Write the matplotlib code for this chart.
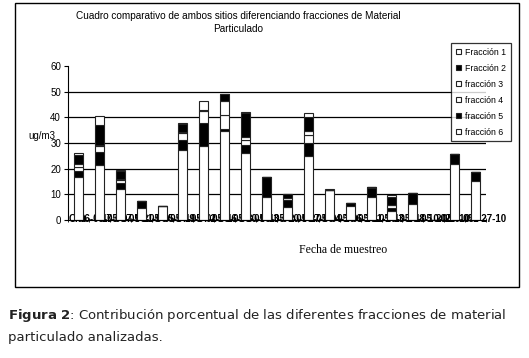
import numpy as np
import matplotlib
matplotlib.use("Agg")
import matplotlib.pyplot as plt
from matplotlib.patches import Rectangle

# fechas de muestreo (illegible in the original, overlapping labels)
fechas = ["Citb", "06-05-05", "17-05-05", "07-06-05", "21-06-05", "05-07-05",
          "19-07-05", "02-08-05", "16-08-05", "30-08-05", "13-09-05", "20-09-05",
          "27-09-05", "04-10-05", "06-10-05", "11-10-05", "13-10-05", "18-10-05",
          "20-10-05", "20-10-1 27-10"]

# ug/m3 por fraccion
fraccion_1 = [16.6, 21.3, 12.0, 4.6, 5.4, 27.2, 28.7, 34.6, 26.0, 9.1,
              5.2, 24.8, 11.8, 5.5, 9.1, 3.6, 6.1, 0, 21.7, 15.2]
fraccion_2 = [2.3, 5.3, 2.5, 2.9, 0, 4.0, 9.0, 1.0, 3.4, 7.8,
              2.7, 5.2, 0, 1.2, 3.3, 1.0, 4.5, 0, 3.9, 3.6]
fraccion_3 = [1.8, 2.4, 1.0, 0, 0, 2.6, 4.8, 5.4, 1.6, 0,
              0.6, 3.2, 0, 0, 0.6, 1.2, 0, 0, 0, 0]
fraccion_4 = [1.0, 0.3, 0.3, 0, 0, 0.5, 0.3, 5.5, 1.2, 0,
              0, 1.5, 0, 0, 0, 0, 0, 0, 0, 0]
fraccion_5 = [3.7, 7.6, 3.3, 0, 0, 3.2, 0, 2.6, 9.5, 0,
              1.5, 5.4, 0, 0, 0, 3.0, 0, 0, 0, 0]
fraccion_6 = [0.8, 3.5, 0.2, 0, 0, 0.2, 3.6, 0, 0.3, 0,
              0, 1.4, 0.2, 0, 0, 0.9, 0, 0, 0, 0]

series = [fraccion_1, fraccion_2, fraccion_3, fraccion_4, fraccion_5, fraccion_6]
nombres = ["Fracción 1", "Fracción 2", "fracción 3", "fracción 4", "fracción 5", "fracción 6"]
colores = ["white", "black", "white", "white", "black", "white"]

plt.rcParams["font.family"] = ["Liberation Sans", "DejaVu Sans"]

fig = plt.figure(figsize=(5.29, 3.58), dpi=100)
W, H = 529, 358
fig.patches.append(Rectangle((15 / W, 1 - 287 / H), (519 - 15) / W, (287 - 3) / H,
                             transform=fig.transFigure, fill=False, edgecolor="black",
                             linewidth=1.0))

ax = fig.add_axes([68 / W, 1 - 220 / H, (486 - 68) / W, (220 - 66) / H])
x = np.arange(len(fechas))
bottom = np.zeros(len(fechas))
for vals, nombre, col in zip(series, nombres, colores):
    vals = np.array(vals)
    ax.bar(x, vals, width=0.43, bottom=bottom, color=col, edgecolor="#222222",
           linewidth=0.8, label=nombre, zorder=2)
    bottom += vals

ax.set_xlim(-0.5, len(fechas) - 0.5)
ax.set_ylim(0, 60)
ax.set_yticks(range(0, 61, 10))
for g in range(10, 60, 10):
    ax.axhline(g, color="black", linewidth=0.9, zorder=1)
ax.set_xticks(x)
ax.set_xticklabels(fechas, fontsize=7, fontweight="bold")
ax.set_xticks(np.arange(-0.5, len(fechas)), minor=True)
ax.tick_params(axis="x", which="major", length=0, pad=-4)
ax.tick_params(axis="x", which="minor", length=3, direction="inout")
ax.tick_params(axis="y", labelsize=7, length=3, pad=2)
for s in ["top", "right"]:
    ax.spines[s].set_visible(False)

fig.text(28 / W, 1 - 136 / H, "ug/m3", fontsize=7, va="center", ha="left")
fig.text(343 / W, 1 - 250 / H, "Fecha de muestreo", fontsize=8.5,
         family=["Liberation Serif"], ha="center", va="center")
fig.text(238 / W, 1 - 22.5 / H,
         "Cuadro comparativo de ambos sitios diferenciando fracciones de Material\nParticulado",
         fontsize=7.2, ha="center", va="center", linespacing=1.35)

leg = fig.legend(loc="upper left", bbox_to_anchor=(447 / W, 1 - 39 / H), fontsize=6.3,
                 frameon=True, fancybox=False, edgecolor="black", handlelength=0.6,
                 handleheight=0.6, handletextpad=0.5, labelspacing=0.8,
                 borderpad=0.5)
leg.get_frame().set_linewidth(0.9)

fig.text(8 / W, 1 - 315 / H, r"$\bf{Figura\ 2}$: Contribución porcentual de las diferentes fracciones de material",
         fontsize=9.5, family=["DejaVu Sans"], va="center", color="#222222")
fig.text(8 / W, 1 - 337 / H, "particulado analizadas.", fontsize=9.5,
         family=["DejaVu Sans"], va="center", color="#222222")

fig.savefig("out.png", dpi=100)
